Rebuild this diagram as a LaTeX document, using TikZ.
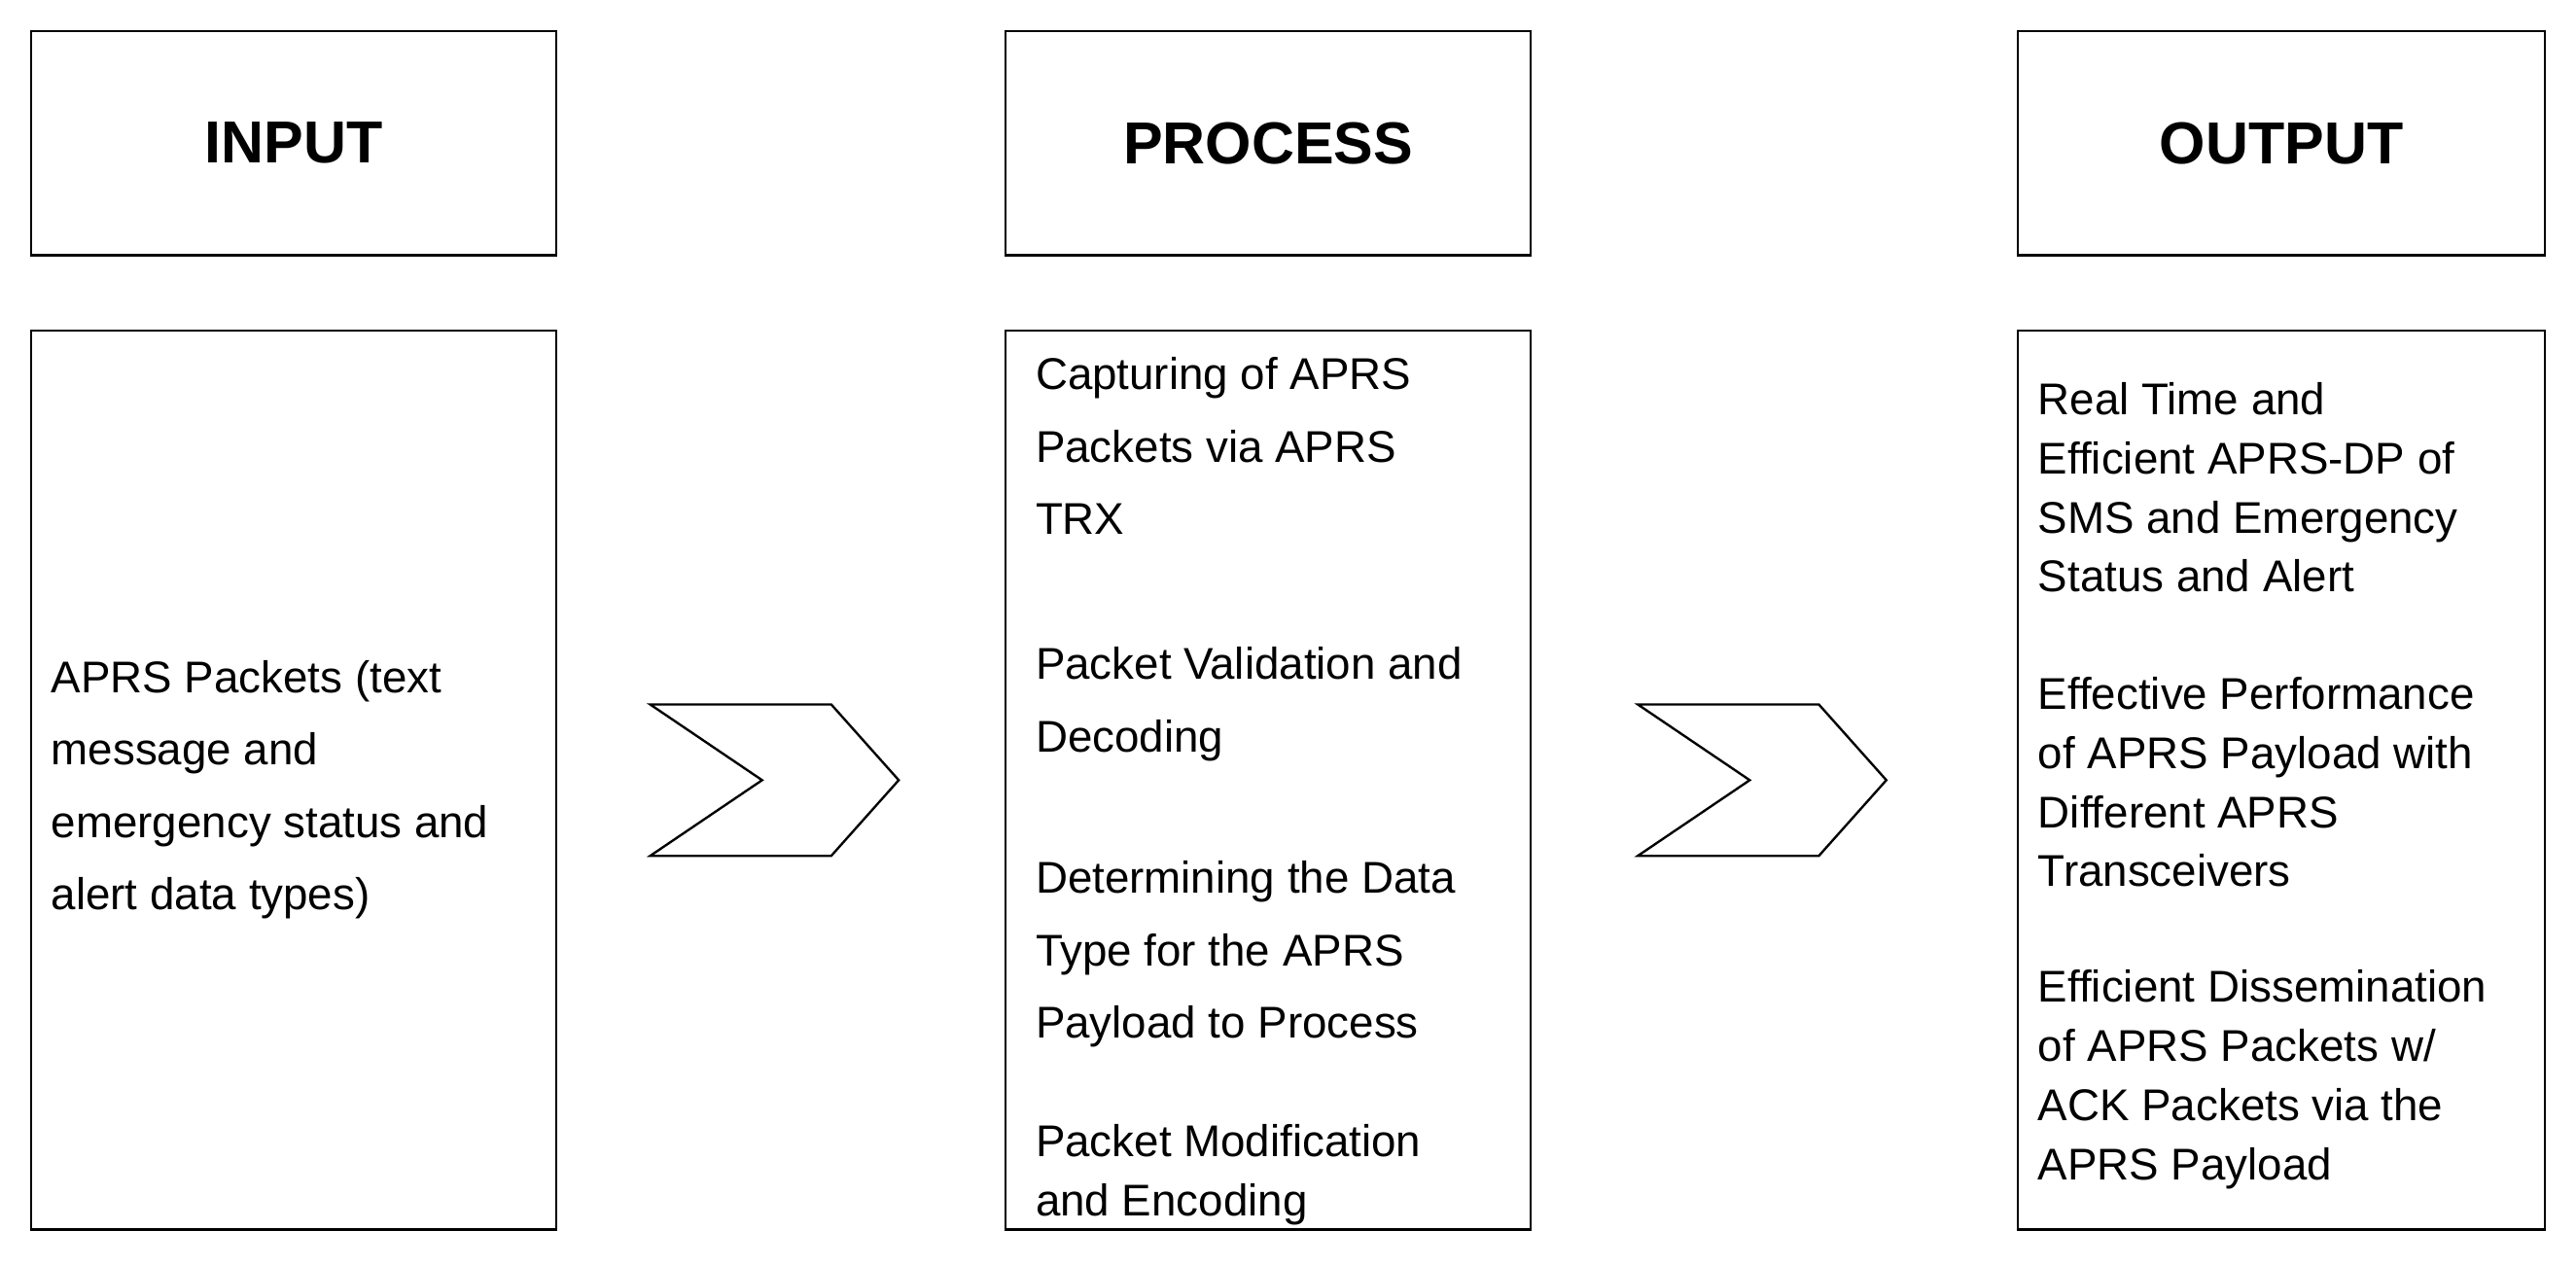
\documentclass[tikz,border=0pt]{standalone}
\usepackage{fontspec}
\setmainfont{Liberation Sans}
\begin{document}
\begin{tikzpicture}[x=1pt,y=-1pt,
  box/.style={draw=black,line width=1.4pt},
  hdr/.style={font=\fontsize{36}{40}\selectfont\bfseries},
  txt/.style={anchor=north west,inner sep=0pt,align=left,font=\fontsize{27}{44}\selectfont},
  txtb/.style={anchor=north west,inner sep=0pt,align=left,font=\fontsize{27}{36}\selectfont},
  chev/.style={draw=black,line width=1.4pt,fill=white}]
\useasboundingbox (0,0) rectangle (1565,769);
\fill[white] (0,0) rectangle (1565,769);
\draw[box] (19,19) rectangle (338,155) node[midway,hdr] (h1) {INPUT};
\draw[box] (611,19) rectangle (930,155) node[midway,hdr] (h2) {PROCESS};
\draw[box] (1226,19) rectangle (1546,155) node[midway,hdr] (h3) {OUTPUT};
\draw[box] (19,201) rectangle (338,747);
\draw[box] (611,201) rectangle (930,747);
\draw[box] (1226,201) rectangle (1546,747);
\node[txt] (i1) at (31,401) {APRS Packets (text\\message and\\emergency status and\\alert data types)};
\begin{scope}
\clip (611,201) rectangle (930,747);
\node[txt] (p1) at (629,217) {Capturing of APRS\\Packets via APRS\\TRX};
\node[txt] (p2) at (629,393) {Packet Validation and\\Decoding};
\node[txt] (p3) at (629,523) {Determining the Data\\Type for the APRS\\Payload to Process};
\node[txtb] (p4) at (629,683) {Packet Modification\\and Encoding};
\end{scope}
\node[txtb] (o1) at (1238,232) {Real Time and\\Efficient APRS-DP of\\SMS and Emergency\\Status and Alert};
\node[txtb] (o2) at (1238,411) {Effective Performance\\of APRS Payload with\\Different APRS\\Transceivers};
\node[txtb] (o3) at (1238,589) {Efficient Dissemination\\of APRS Packets w/\\ACK Packets via the\\APRS Payload};
\draw[chev] (395,428) -- (505,428) -- (546,474) -- (505,520) -- (395,520) -- (463,474) -- cycle;
\draw[chev] (995,428) -- (1105,428) -- (1146,474) -- (1105,520) -- (995,520) -- (1063,474) -- cycle;
\end{tikzpicture}
\end{document}
